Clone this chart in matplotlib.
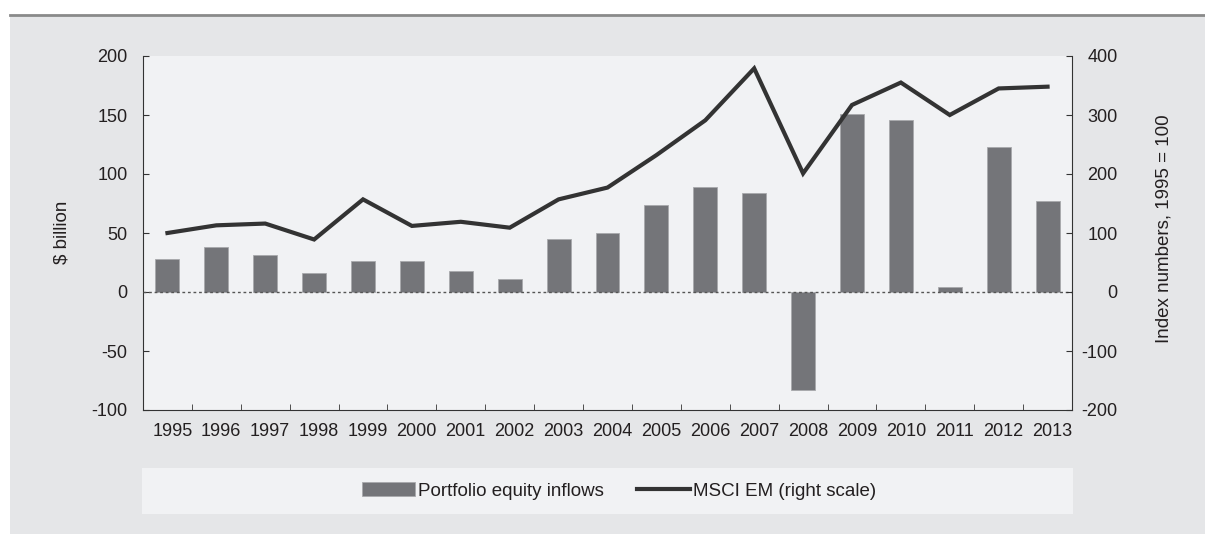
"""Portfolio equity inflows vs MSCI EM index."""
import matplotlib

matplotlib.use("Agg")
import matplotlib.pyplot as plt
import numpy as np
from matplotlib.patches import Rectangle
from matplotlib.lines import Line2D

plt.rcParams["font.family"] = ["Liberation Sans", "DejaVu Sans"]
plt.rcParams["axes.unicode_minus"] = False

years = ["1995", "1996", "1997", "1998", "1999", "2000", "2001", "2002", "2003", "2004",
         "2005", "2006", "2007", "2008", "2009", "2010", "2011", "2012", "2013"]
equity_inflows = [28, 38, 31, 16, 26, 26, 18, 11, 45, 50, 74, 89, 84, -83, 151, 146, 4, 123, 77]
msci_em = [100, 113, 116, 89, 157, 112, 119, 109, 157, 177, 232, 291, 379, 201, 317, 355, 300, 345, 348]

BG = "#e5e6e8"
PANEL = "#f1f2f4"
BAR = "#747579"
LINE = "#333333"
TXT = "#231f20"

W, H = 1205, 534
fig = plt.figure(figsize=(W / 100, H / 100), dpi=100, facecolor="white")

# grey backdrop with a rule on top
fig.patches.append(Rectangle((10 / W, 0), 1, (H - 16) / H, transform=fig.transFigure,
                             facecolor=BG, edgecolor="none", zorder=-10))
fig.lines.append(Line2D([10 / W, 1], [(H - 15) / H] * 2, transform=fig.transFigure,
                        color="#8a8a8a", lw=2))
# legend panel
fig.patches.append(Rectangle((142 / W, 20 / H), (1073 - 142) / W, 46 / H,
                             transform=fig.transFigure, facecolor=PANEL,
                             edgecolor="none", zorder=-5))

ax = fig.add_axes([143 / W, 124 / H, 929 / W, 354 / H])
ax.set_facecolor(PANEL)
x = np.arange(len(years))

ax.bar(x, equity_inflows, width=0.49, color=BAR, edgecolor="#a8a9ac",
       linewidth=0.6, zorder=2, label="Portfolio equity inflows")
ax.axhline(0, color="#555555", lw=1, ls=(0, (2, 2)), zorder=3)

ax.set_xlim(-0.5, len(years) - 0.5)
ax.set_ylim(-100, 200)
ax.set_yticks(np.arange(-100, 201, 50))
ax.set_xticks(np.arange(-0.5, len(years)), minor=True)
ax.set_xticks(x + 0.1)
ax.set_xticklabels(years)
ax.tick_params(axis="x", which="major", length=0, pad=9, labelsize=13, labelcolor=TXT)
ax.tick_params(axis="x", which="minor", direction="in", length=4, color="#333333")
ax.tick_params(axis="y", direction="in", length=4, pad=11, labelsize=13,
               labelcolor=TXT, color="#333333")
for s in ["top", "right"]:
    ax.spines[s].set_visible(False)
for s in ["left", "bottom"]:
    ax.spines[s].set_color("#333333")

ax2 = ax.twinx()
ax2.plot(x, msci_em, color=LINE, lw=3, zorder=4, label="MSCI EM (right scale)",
         solid_joinstyle="miter")
ax2.set_ylim(-200, 400)
ax2.set_yticks(np.arange(-200, 401, 100))
ax2.tick_params(axis="y", direction="in", length=4, pad=33, labelsize=13,
                labelcolor=TXT, color="#333333")
for tl in ax2.get_yticklabels():
    tl.set_horizontalalignment("right")
for s in ["top", "left", "bottom"]:
    ax2.spines[s].set_visible(False)
ax2.spines["right"].set_color("#333333")

fig.text(62 / W, (H - 232) / H, "$ billion", rotation=90, ha="center", va="center",
         fontsize=13.5, color=TXT)
fig.text(1164 / W, (H - 229) / H, "Index numbers, 1995 = 100", rotation=90,
         ha="center", va="center", fontsize=13.5, color=TXT)

h1, l1 = ax.get_legend_handles_labels()
h2, l2 = ax2.get_legend_handles_labels()
fig.legend(h1 + h2, l1 + l2, loc="center left", bbox_to_anchor=(353 / W, 43 / H),
           ncol=2, frameon=False, fontsize=13.5, borderpad=0, handlelength=2.8,
           handletextpad=0.15, columnspacing=1.8, labelcolor=TXT)

fig.savefig("out.png", dpi=100, facecolor="white")
